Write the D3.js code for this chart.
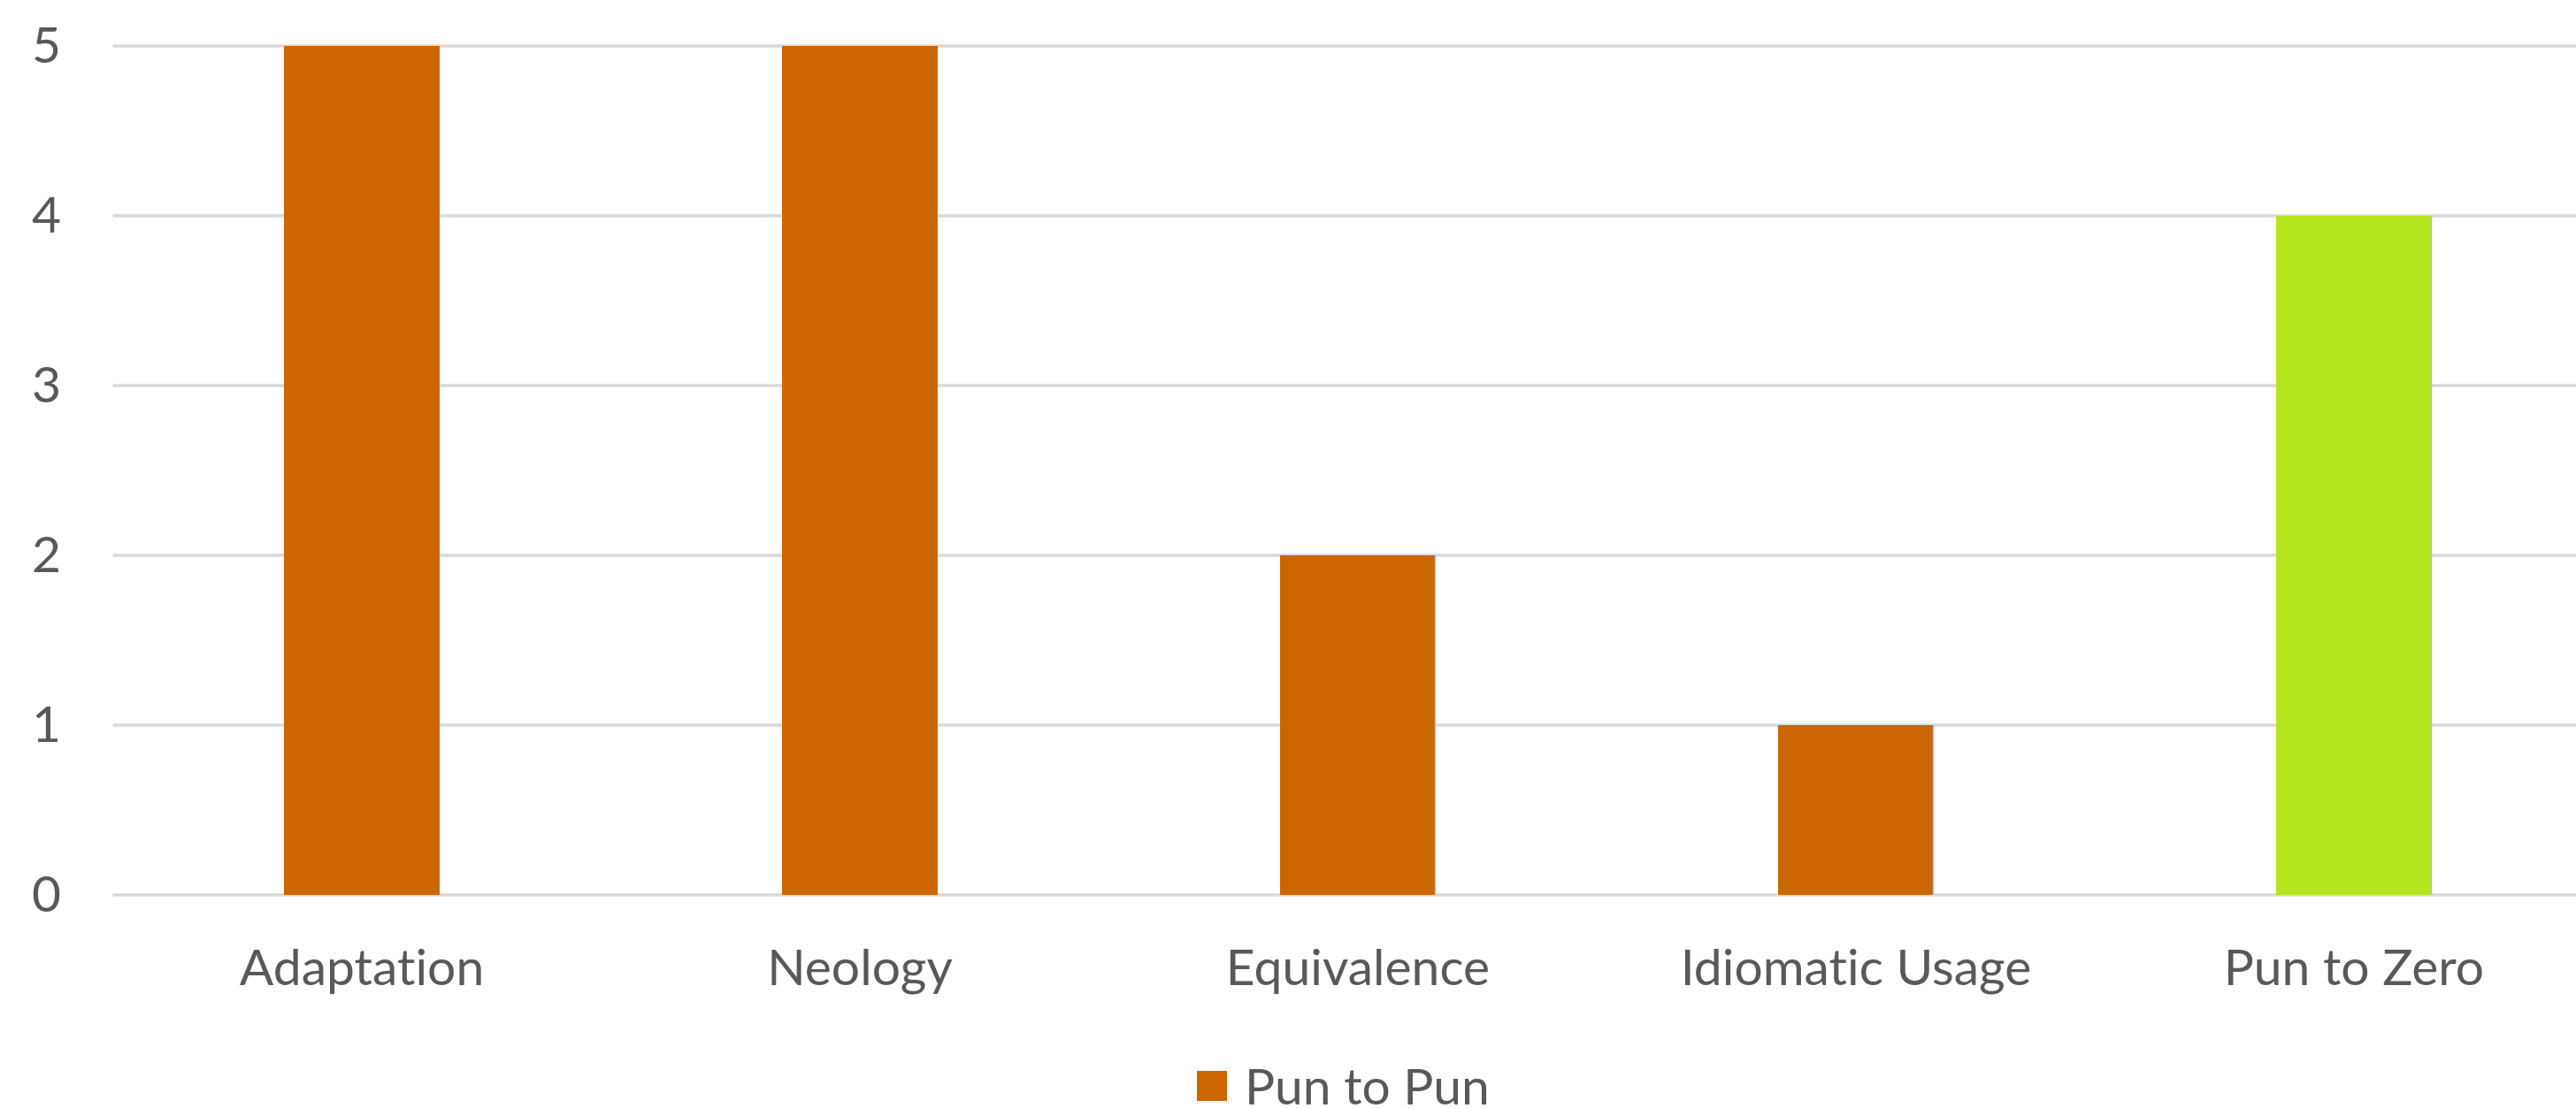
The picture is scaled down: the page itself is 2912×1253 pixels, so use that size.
<!DOCTYPE html>
<html>
<head>
<meta charset="utf-8">
<script src="https://cdn.jsdelivr.net/npm/d3@7"></script>
<style>
  html, body { margin: 0; padding: 0; background: #ffffff; }
  svg { display: block; }
  text { font-family: Lato, "Open Sans", sans-serif; fill: #595959; font-variant-ligatures: none; font-feature-settings: "liga" 0; }
</style>
</head>
<body>
<svg id="chart" width="2912" height="1253"></svg>
<script>
// Translation strategies and how many puns each one handled
const categories = ["Adaptation", "Neology", "Equivalence", "Idiomatic Usage", "Pun to Zero"];
const values = [5, 5, 2, 1, 4];
const seriesName = "Pun to Pun";
const yTicks = [0, 1, 2, 3, 4, 5];

const W = 2912, H = 1253;
const plot = { left: 127.5, top: 52, bottom: 1012, step: 563 };
const orange = "#CC6600";
const green = "#B5E61D";
const fontSize = 57;

const svg = d3.select("#chart");

const x = d3.scaleBand()
  .domain(categories)
  .range([plot.left, plot.left + plot.step * categories.length])
  .paddingInner(0.6875)
  .paddingOuter(0.34375);

const y = d3.scaleLinear()
  .domain([0, 5])
  .range([plot.bottom, plot.top]);

// horizontal gridlines
svg.append("g")
  .selectAll("line")
  .data(yTicks)
  .join("line")
  .attr("x1", plot.left)
  .attr("x2", W)
  .attr("y1", d => y(d))
  .attr("y2", d => y(d))
  .attr("stroke", "#d9d9d9")
  .attr("stroke-width", 3.5);

// y axis labels
const yAxis = d3.axisLeft(y).tickValues(yTicks).tickSize(0).tickPadding(0).tickFormat(d3.format("d"));
const gy = svg.append("g").attr("transform", "translate(69,0)").call(yAxis);
gy.select(".domain").remove();
gy.selectAll("text")
  .attr("font-size", fontSize)
  .attr("font-family", "Lato, 'Open Sans', sans-serif")
  .attr("fill", "#595959");

// bars: the last strategy (puns dropped) drawn in green
const barColor = d => (d === "Pun to Zero" ? green : orange);
svg.append("g")
  .selectAll("rect")
  .data(categories)
  .join("rect")
  .attr("x", d => x(d))
  .attr("width", x.bandwidth())
  .attr("y", (d, i) => y(values[i]))
  .attr("height", (d, i) => y(0) - y(values[i]))
  .attr("fill", barColor);

// thin light-blue right edge visible on the shorter bars
svg.append("g")
  .selectAll("line")
  .data(categories.slice(2))
  .join("line")
  .attr("x1", d => x(d) + x.bandwidth() - 0.5)
  .attr("x2", d => x(d) + x.bandwidth() - 0.5)
  .attr("y1", d => y(values[categories.indexOf(d)]))
  .attr("y2", y(0))
  .attr("stroke", "#9DC3E6")
  .attr("stroke-width", 1.5);

// x axis category labels
const xAxis = d3.axisBottom(x).tickSize(0).tickPadding(0);
const gx = svg.append("g").attr("transform", "translate(0,1074)").call(xAxis);
gx.select(".domain").remove();
gx.selectAll("text")
  .attr("font-size", fontSize)
  .attr("font-family", "Lato, 'Open Sans', sans-serif")
  .attr("fill", "#595959")
  .attr("dy", "0.71em");

// legend
const legend = svg.append("g").attr("transform", "translate(1353,1211)");
legend.append("rect").attr("width", 34).attr("height", 34).attr("fill", orange);
legend.append("text")
  .attr("x", 54)
  .attr("y", 17)
  .attr("dy", "0.36em")
  .attr("font-size", fontSize)
  .text(seriesName);
</script>
</body>
</html>
